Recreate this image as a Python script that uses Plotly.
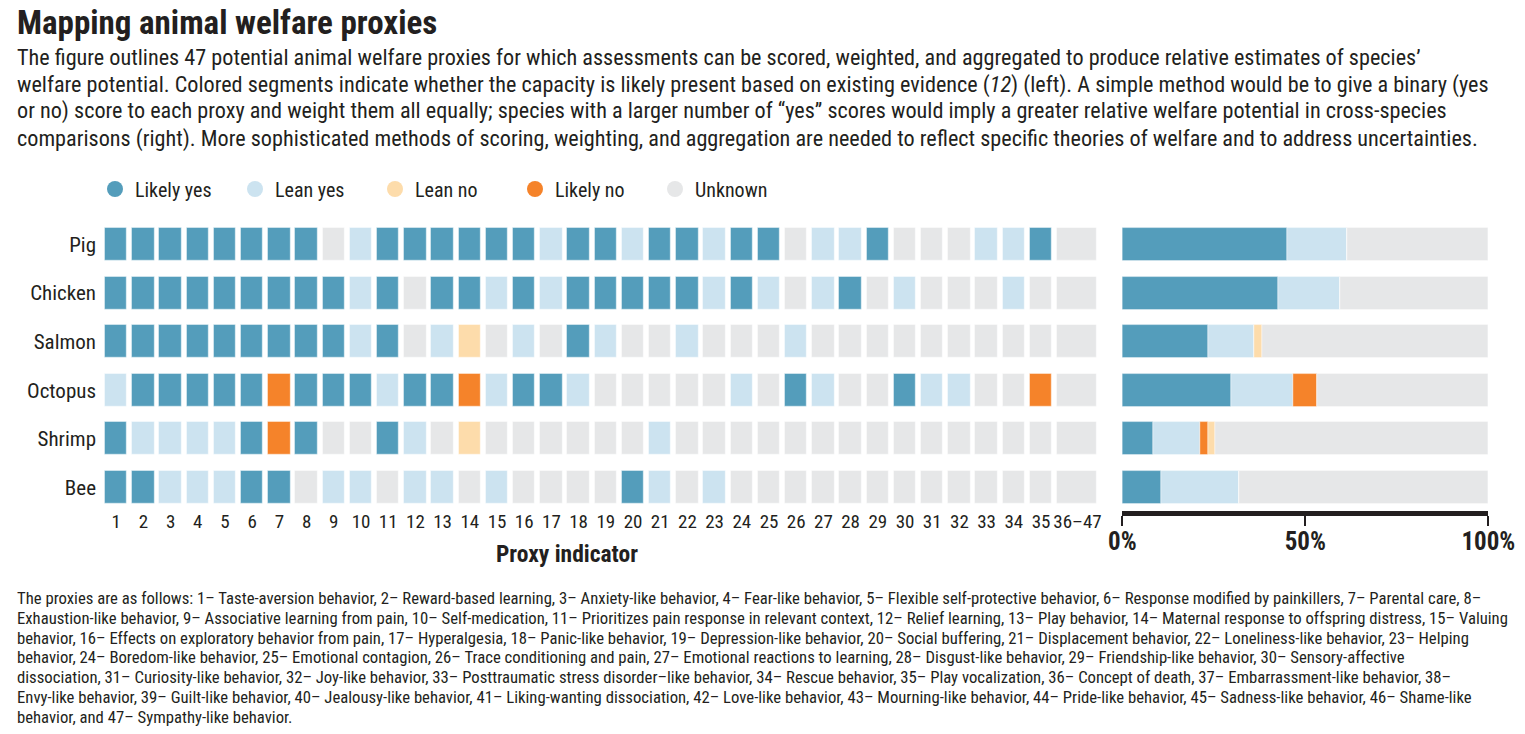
import plotly.graph_objects as go

# ---------------- data ----------------
species = ["Pig", "Chicken", "Salmon", "Octopus", "Shrimp", "Bee"]
proxy_labels = [str(i) for i in range(1, 36)] + ["36–47"]

# status per proxy column (1..35, then 36–47): Y=likely yes, L=lean yes, N=lean no, X=likely no, U=unknown
pig     = "Y Y Y Y Y Y Y Y U L Y Y Y Y Y Y L Y Y L Y Y L Y Y U L L Y U U U L L Y U".split()
chicken = "Y Y Y Y Y Y Y Y Y L Y U Y Y L Y L Y Y Y Y Y L Y L U L Y U L U U U L U U".split()
salmon  = "Y Y Y Y Y Y Y Y Y L Y U L N U L U Y L U U L U U U L U U U U U U U U U U".split()
octopus = "L Y Y Y Y Y X Y Y Y L Y Y X L Y Y L U U U U U L U Y L U U Y L L U U X U".split()
shrimp  = "Y L L L L Y X Y U U Y L U N U U U U U U L U U U U U U U U U U U U U U U".split()
bee     = "Y Y L L L Y Y U L L U L L U L U U U U Y L U L U U U U U U U U U U U U U".split()

# percentage shares shown in the right-hand bars
share_likely_yes = [45.2, 42.6, 23.4, 29.8, 8.5, 10.6]
share_lean_yes   = [16.3, 17.0, 12.8, 17.0, 12.8, 21.3]
share_likely_no  = [0.0, 0.0, 0.0, 6.4, 2.1, 0.0]
share_lean_no    = [0.0, 0.0, 2.1, 0.0, 2.1, 0.0]
share_unknown    = [38.5, 40.4, 61.7, 46.8, 74.5, 68.1]

cat_codes  = ["Y", "L", "N", "X", "U"]
cat_names  = ["Likely yes", "Lean yes", "Lean no", "Likely no", "Unknown"]
cat_colors = ["#549DBB", "#CCE3F0", "#FDDCAB", "#F5832A", "#E6E7E8"]

subtitle_lines = [
    "The figure outlines 47 potential animal welfare proxies for which assessments can be scored, weighted, and aggregated to produce relative estimates of species’",
    "welfare potential. Colored segments indicate whether the capacity is likely present based on existing evidence (<i>12</i>) (left). A simple method would be to give a binary (yes",
    "or no) score to each proxy and weight them all equally; species with a larger number of “yes” scores would imply a greater relative welfare potential in cross-species",
    "comparisons (right). More sophisticated methods of scoring, weighting, and aggregation are needed to reflect specific theories of welfare and to address uncertainties.",
]
footnote_lines = [
    "The proxies are as follows: 1– Taste-aversion behavior, 2– Reward-based learning, 3– Anxiety-like behavior, 4– Fear-like behavior, 5– Flexible self-protective behavior, 6– Response modified by painkillers, 7– Parental care, 8–",
    "Exhaustion-like behavior, 9– Associative learning from pain, 10– Self-medication, 11– Prioritizes pain response in relevant context, 12– Relief learning, 13– Play behavior, 14– Maternal response to offspring distress, 15– Valuing",
    "behavior, 16– Effects on exploratory behavior from pain, 17– Hyperalgesia, 18– Panic-like behavior, 19– Depression-like behavior, 20– Social buffering, 21– Displacement behavior, 22– Loneliness-like behavior, 23– Helping",
    "behavior, 24– Boredom-like behavior, 25– Emotional contagion, 26– Trace conditioning and pain, 27– Emotional reactions to learning, 28– Disgust-like behavior, 29– Friendship-like behavior, 30– Sensory-affective",
    "dissociation, 31– Curiosity-like behavior, 32– Joy-like behavior, 33– Posttraumatic stress disorder–like behavior, 34– Rescue behavior, 35– Play vocalization, 36– Concept of death, 37– Embarrassment-like behavior, 38–",
    "Envy-like behavior, 39– Guilt-like behavior, 40– Jealousy-like behavior, 41– Liking-wanting dissociation, 42– Love-like behavior, 43– Mourning-like behavior, 44– Pride-like behavior, 45– Sadness-like behavior, 46– Shame-like",
    "behavior, and 47– Sympathy-like behavior.",
]

# ---------------- layout helpers ----------------
W, H = 1525, 734
OX, OY = 0, 0            # page body margin removed below
def fx(px): return (px - OX) / W
def fy(py): return 1 - (py - OY) / H

FONT = "Liberation Sans Narrow, Roboto Condensed, DejaVu Sans Condensed, Arial Narrow, sans-serif"
TXT = "#231f20"

col_px0, col_pitch = 116.2, 27.2          # pixel center of column 1, pitch
row_px0, row_pitch = 244.5, 48.6          # pixel center of row 0, pitch
gx0, gx1 = 100, 1105
gy_top, gy_bot = 215, 508
def px2col(p): return 1 + (p - col_px0) / col_pitch
def py2row(p): return (p - row_px0) / row_pitch

col_x = list(range(1, 36)) + [36.34]
col_w = [0.83] * 35 + [1.47]
bar_h = 0.68

rows = [pig, chicken, salmon, octopus, shrimp, bee]

fig = go.Figure()

# left grid
for code, name, color in zip(cat_codes, cat_names, cat_colors):
    xs, bases, ws = [], [], []
    for r, row in enumerate(rows):
        for c, s in enumerate(row):
            if s == code:
                xs.append(col_x[c]); bases.append(r - bar_h / 2); ws.append(col_w[c])
    fig.add_trace(go.Bar(
        x=xs, y=[bar_h] * len(xs), base=bases, width=ws,
        marker=dict(color=color, line=dict(color="rgba(255,255,255,0.5)", width=1.2)),
        xaxis="x", yaxis="y", showlegend=False, hoverinfo="skip"))

# right stacked bars (order: yes, lean yes, likely no, lean no, unknown)
stack = [("Likely yes", share_likely_yes, cat_colors[0]),
         ("Lean yes", share_lean_yes, cat_colors[1]),
         ("Likely no", share_likely_no, cat_colors[3]),
         ("Lean no", share_lean_no, cat_colors[2]),
         ("Unknown", share_unknown, cat_colors[4])]
cum = [0.0] * len(species)
for name, vals, color in stack:
    fig.add_trace(go.Bar(
        x=vals, y=list(range(len(species))), base=cum[:], orientation="h", width=bar_h,
        marker=dict(color=color, line=dict(color="rgba(255,255,255,0.5)", width=0.8)),
        xaxis="x2", yaxis="y", showlegend=False, hoverinfo="skip"))
    cum = [a + b for a, b in zip(cum, vals)]

# legend entries
for name, color in zip(cat_names, cat_colors):
    fig.add_trace(go.Scatter(x=[None], y=[None], mode="markers", name=name,
                             marker=dict(symbol="circle", size=19, color=color),
                             xaxis="x", yaxis="y", hoverinfo="skip"))

fig.update_layout(
    template="none",
    width=W, height=H, margin=dict(l=0, r=0, t=0, b=0, autoexpand=False),
    paper_bgcolor="white", plot_bgcolor="white",
    barmode="overlay", bargap=0,
    font=dict(family=FONT, color=TXT),
    xaxis=dict(domain=[fx(gx0), fx(gx1)], range=[px2col(gx0), px2col(gx1)],
               tickmode="array", tickvals=col_x, ticktext=proxy_labels,
               showgrid=False, zeroline=False, showline=False, ticks="",
               tickfont=dict(size=19, color=TXT), anchor="y", fixedrange=True, automargin=False),
    yaxis=dict(domain=[fy(gy_bot), fy(gy_top)], range=[py2row(gy_bot), py2row(gy_top)],
               tickmode="array", tickvals=list(range(len(species))), ticktext=species,
               showgrid=False, zeroline=False, showline=False, ticks="",
               tickfont=dict(size=21, color=TXT), ticklabelstandoff=3, fixedrange=True,
               automargin=False),
    xaxis2=dict(domain=[fx(1122.3), fx(1488.3)], range=[0, 100],
                anchor="free", position=fy(513),
                tickmode="array", tickvals=[0, 50, 100], ticktext=["<b>0%</b>", "<b>50%</b>", "<b>100%</b>"],
                showline=True, linewidth=5, linecolor="#231f20",
                ticks="outside", ticklen=10, tickwidth=1.5, tickcolor="#231f20",
                ticklabelstandoff=-6,
                showgrid=False, zeroline=False,
                tickfont=dict(size=25, color=TXT), fixedrange=True, automargin=False),
    legend=dict(orientation="h", x=fx(95), y=fy(189), xanchor="left", yanchor="middle",
                entrywidth=95, entrywidthmode="pixels", itemsizing="trace",
                font=dict(size=20, color=TXT), bgcolor="rgba(0,0,0,0)"),
)

ann = [
    dict(text="<b>Mapping animal welfare proxies</b>", x=fx(15), y=fy(23), xanchor="left", yanchor="middle",
         font=dict(size=33, color=TXT)),
    dict(text="<b>Proxy indicator</b>", x=fx(567), y=fy(554), xanchor="center", yanchor="middle",
         font=dict(size=23.5, color=TXT)),
]
sub_y = [57, 84, 111, 138]
for t, yy in zip(subtitle_lines, sub_y):
    ann.append(dict(text=t, x=fx(15), y=fy(yy), xanchor="left", yanchor="middle",
                    font=dict(size=22.2, color=TXT)))
foot_y = [598, 618, 638, 657, 677, 697, 717]
for t, yy in zip(footnote_lines, foot_y):
    ann.append(dict(text=t, x=fx(15), y=fy(yy), xanchor="left", yanchor="middle",
                    font=dict(size=16.7, color=TXT)))
for a in ann:
    a.update(xref="paper", yref="paper", showarrow=False)
fig.update_layout(annotations=ann)

fig.write_html("out.html",
               config={"displayModeBar": False},
               post_script="document.body.style.margin='0';document.body.style.overflow='hidden';")
